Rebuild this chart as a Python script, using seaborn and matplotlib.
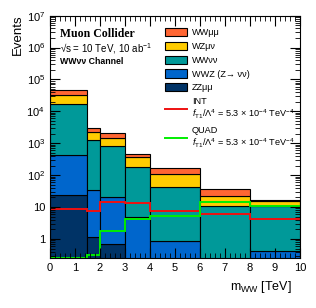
# Muon collider WWvv channel - stacked m_WW distribution

import numpy as np
import pandas as pd
import seaborn as sns
import matplotlib.pyplot as plt
from matplotlib.patches import Patch
from matplotlib.lines import Line2D
from matplotlib.ticker import MultipleLocator, LogLocator, FuncFormatter, NullFormatter

# bin edges in TeV
edges = [0, 1.5, 2, 3, 4, 6, 8, 10]
processes = ["WWμμ", "WZμν", "WWνν", "WWZ (Z→ νν)", "ZZμμ"]
colors = ["#ff6633", "#ffcc00", "#009999", "#0066cc", "#003366"]

# events per bin for each process (stacked top to bottom)
ww_mumu = [16000, 770, 640, 99, 59, 13.6, 1.1]
wz_munu = [14200, 1050, 610, 189, 63, 11.5, 4.6]
ww_nunu = [16865, 1247, 809, 173, 43, 10.9, 10.6]
wwz_nunu = [411, 31.8, 20.3, 5.0, 0.83, 0, 0.43]
zz_mumu = [24, 1.18, 0.70, 0, 0, 0, 0]

# EFT contributions
int_t1 = [8.5, 7.5, 14.8, 13.2, 7.7, 5.9, 4.2]
quad_t1 = [0.26, 0.31, 1.82, 4.2, 5.3, 14.1, 11.1]

y_ticks = [1, 10, 1e2, 1e3, 1e4, 1e5, 1e6, 1e7]

centers = [(a + b) / 2 for a, b in zip(edges[:-1], edges[1:])]
rows = []
for name, vals in zip(processes, [ww_mumu, wz_munu, ww_nunu, wwz_nunu, zz_mumu]):
    for c, v in zip(centers, vals):
        rows.append({"mww": c, "events": v, "process": name})
df = pd.DataFrame(rows)

plt.rcParams['font.family'] = ['Liberation Sans', 'DejaVu Sans']
plt.rcParams['mathtext.fontset'] = 'custom'
plt.rcParams['mathtext.rm'] = 'Liberation Sans'
plt.rcParams['mathtext.it'] = 'Liberation Sans:italic'
plt.rcParams['mathtext.bf'] = 'Liberation Sans:bold'

fig = plt.figure(figsize=(3.16, 3.08), dpi=100)
ax = fig.add_axes([0.158, 0.162, 0.791, 0.787])

sns.histplot(data=df, x="mww", weights="events", hue="process", hue_order=processes,
             bins=edges, multiple="stack", palette=colors, alpha=1,
             edgecolor="black", linewidth=0.8, legend=False, ax=ax)

ax.stairs(int_t1, edges, color="#ee1111", lw=1.4, baseline=None)
ax.stairs(quad_t1, edges, color="#00ee00", lw=1.4, baseline=None)

ax.set_yscale("log")
ax.set_xlim(0, 10)
ax.set_ylim(0.25, 1e7)
ax.set_xlabel("")
ax.set_ylabel("")

ax.xaxis.set_major_locator(MultipleLocator(1))
ax.xaxis.set_minor_locator(MultipleLocator(0.2))
ax.set_yticks(y_ticks)
ax.yaxis.set_minor_locator(LogLocator(base=10, subs=np.arange(2, 10), numticks=20))
ax.yaxis.set_minor_formatter(NullFormatter())


def ylab(v, pos):
    e = int(round(np.log10(v)))
    if e == 0:
        return "1"
    if e == 1:
        return "10"
    return "$10^{%d}$" % e


ax.yaxis.set_major_formatter(FuncFormatter(ylab))
ax.tick_params(which="both", direction="in", top=True, right=True, labelsize=8)
ax.tick_params(which="major", length=7, width=0.8)
ax.tick_params(which="minor", length=3.5, width=0.6)
for s in ax.spines.values():
    s.set_linewidth(0.8)

# labels
fig.text(0.057, 0.952, "Events", rotation=90, ha="center", va="top", fontsize=9.5)
fig.text(0.924, 0.068, "m$_{\\mathrm{WW}}$ [TeV]", ha="right", va="center", fontsize=9)

ax.text(0.04, 0.925, "Muon Collider", transform=ax.transAxes, fontsize=8.5,
        fontweight="bold", family="Liberation Serif", va="center")
ax.text(0.04, 0.863, "√s = 10 TeV, 10 ab$^{-1}$", transform=ax.transAxes,
        fontsize=7, va="center")
ax.text(0.04, 0.81, "WWνν Channel", transform=ax.transAxes, fontsize=6.3,
        fontweight="bold", va="center")

handles = [Patch(facecolor=c, edgecolor="black", lw=0.8) for c in colors]
handles += [Line2D([], [], color="#ee1111", lw=1.4), Line2D([], [], color="#00ee00", lw=1.4)]
labels = processes + [
    "INT\n$f_{\\mathrm{T1}}/\\Lambda^4$ = 5.3 × 10$^{-4}$ TeV$^{-4}$",
    "QUAD\n$f_{\\mathrm{T1}}/\\Lambda^4$ = 5.3 × 10$^{-4}$ TeV$^{-4}$",
]
ax.legend(handles, labels, loc="upper left", bbox_to_anchor=(0.445, 0.965),
          frameon=False, fontsize=6.6, handlelength=2.4, handleheight=1.0,
          labelspacing=0.5, handletextpad=0.55, borderaxespad=0)

fig.savefig("out.png", dpi=100)
